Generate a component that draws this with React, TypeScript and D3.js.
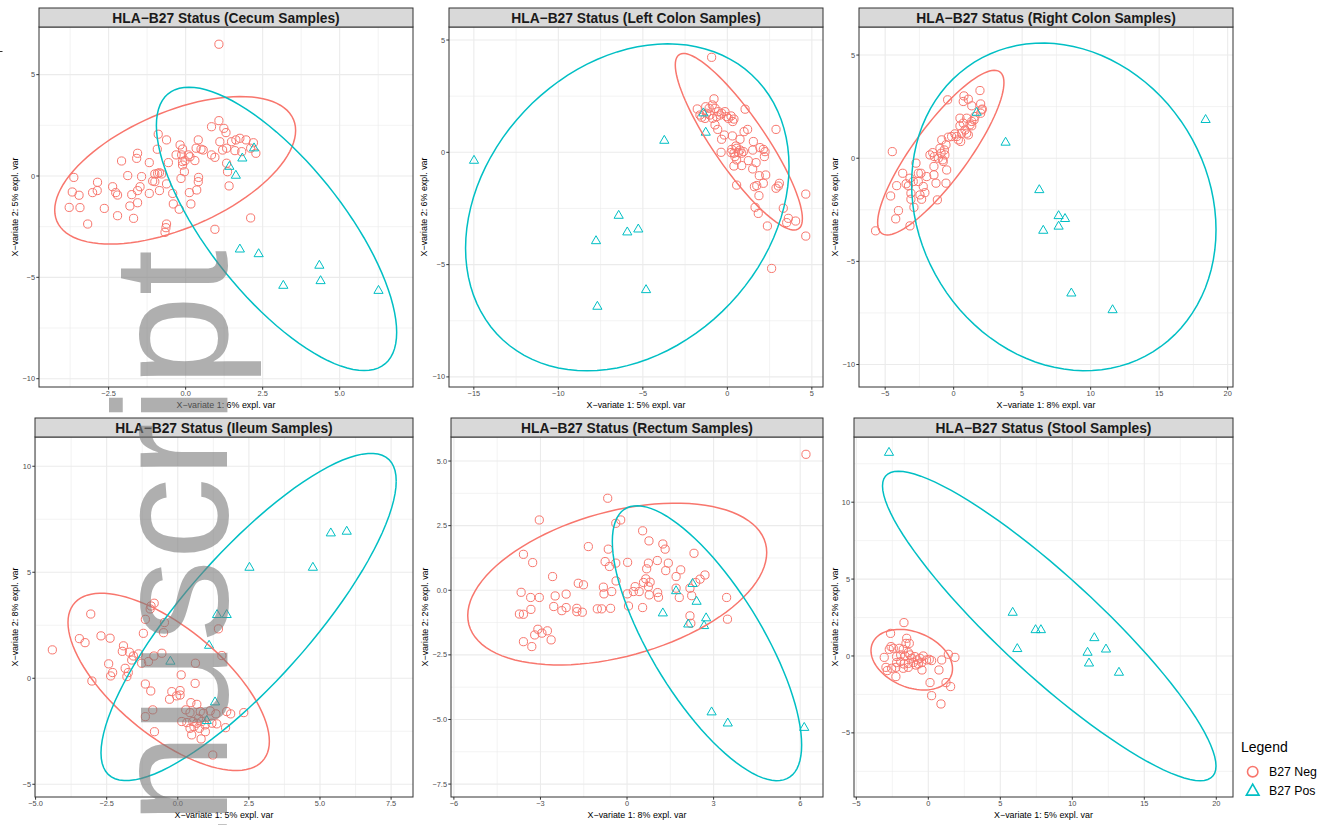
import React from "react";
import * as d3 from "d3";

type Pt = [number, number];

const NEG_COLOR = "#F8766D";
const POS_COLOR = "#00BFC4";
const legendLabels = ["B27 Neg", "B27 Pos"];

// ---------- Cecum ----------
const cecumNeg: Pt[] = [
  [1.08, 6.5], [0.84, 2.43], [1.08, 2.73], [1.24, 2.35], [1.31, 2.14], [-0.89, 2.06], [-0.62, 1.78], [0.41, 1.78],
  [1.11, 1.69], [1.49, 1.69], [1.63, 1.78], [1.76, 1.86], [1.96, 1.78], [2.2, 1.64], [-0.18, 1.53], [-0.92, 1.32],
  [-0.1, 1.33], [0.34, 1.37], [0.5, 1.32], [0.57, 1.28], [1.2, 1.28], [1.33, 1.37], [1.6, 1.25], [1.82, 1.2],
  [2.11, 1.37], [2.28, 1.12], [-1.56, 1.12], [-1.59, 0.87], [-0.31, 1.04], [-0.13, 1.04], [0.09, 1.04], [0.14, 0.95],
  [0.84, 1.04], [0.95, 0.92], [-2.08, 0.74], [-1.18, 0.66], [-0.56, 0.66], [-0.1, 0.71], [-0.02, 0.76], [0.3, 0.76],
  [-0.1, 0.54], [1.33, 0.63], [1.36, 0.21], [-0.91, 0.13], [-1.0, 0.1], [-0.85, 0.16], [-0.78, 0.1], [-0.04, 0.21],
  [-1.88, 0.02], [-1.43, -0.03], [-3.63, -0.07], [0.42, -0.07], [-0.15, -0.12], [0.41, -0.28], [-1.07, -0.25],
  [-1.0, -0.28], [-2.86, -0.31], [-0.62, -0.39], [-2.37, -0.53], [-1.48, -0.53], [0.36, -0.69], [-0.85, -0.72],
  [-3.68, -0.79], [-2.87, -0.72], [-3.02, -0.82], [-1.56, -0.72], [-2.27, -0.82], [0.12, -0.82], [-1.18, -0.86],
  [-0.42, -0.86], [1.41, -0.49], [-3.46, -0.95], [-2.21, -0.94], [-1.75, -0.92], [-1.56, -1.32], [-0.4, -1.38],
  [0.17, -1.38], [-1.81, -1.48], [-3.78, -1.55], [-3.43, -1.56], [-2.64, -1.6], [-0.21, -1.64], [-2.21, -1.96],
  [-1.69, -2.09], [2.11, -2.07], [-3.18, -2.37], [-0.62, -2.37], [-0.64, -2.55], [-0.67, -2.78], [0.95, -2.63],
];
const cecumPos: Pt[] = [
  [2.22, 1.37], [1.84, 0.87], [1.42, 0.46], [1.63, 0.02], [1.76, -3.62], [2.37, -3.85], [4.34, -4.42], [4.38, -5.18],
  [3.17, -5.41], [6.26, -5.66],
];
// ellipse: [centerX, centerY, halfWidth, halfHeight, correlation]
const cecumEllNeg = [-0.34, 0.28, 3.91, 3.64, 0.54];
const cecumEllPos = [2.95, -2.61, 3.9, 6.99, -0.73];

// ---------- Left colon ----------
const leftNeg: Pt[] = [
  [-0.93, 4.23], [-0.79, 2.38], [-1.78, 1.93], [-1.28, 2.03], [-1.08, 1.96], [-0.89, 2.11], [-0.73, 1.96], [-0.53, 1.81],
  [-0.34, 1.74], [-0.14, 1.81], [-1.52, 1.56], [-1.32, 1.51], [-1.03, 1.66], [-0.87, 1.51], [-0.63, 1.59], [-0.43, 1.66],
  [-0.04, 1.59], [0.22, 1.62], [0.39, 1.48], [0.32, 1.37], [1.05, 1.92], [-0.73, 1.22], [-0.57, 1.02], [2.88, 1.02],
  [0.99, 0.92], [1.2, 1.02], [-0.18, 0.77], [0.3, 0.73], [-0.34, 0.58], [0.75, 0.58], [1.54, 0.48], [0.51, 0.28],
  [0.26, 0.13], [0.55, 0.18], [0.75, 0.1], [0.95, 0.03], [0.39, -0.04], [0.22, -0.01], [0.65, -0.01], [-0.37, 0.0],
  [0.85, -0.04], [1.5, 0.1], [1.93, 0.21], [2.13, 0.13], [2.23, 0.03], [2.19, -0.19], [0.45, -0.19], [0.55, -0.34],
  [1.24, -0.37], [1.7, -0.46], [0.39, -0.61], [0.85, -0.59], [1.5, -0.74], [1.89, -1.04], [2.27, -1.01], [0.55, -1.46],
  [1.6, -1.53], [1.74, -1.48], [2.13, -1.38], [3.08, -1.38], [3.02, -1.5], [2.88, -1.6], [1.87, -1.93], [4.64, -1.86],
  [1.64, -2.45], [1.83, -2.72], [3.31, -2.49], [3.61, -2.94], [3.51, -3.13], [4.04, -3.06], [2.37, -3.28], [4.64, -3.73],
  [2.62, -5.17], [-1.62, 1.66], [-1.22, 1.74], [0.06, 1.51],
];
const leftPos: Pt[] = [
  [-14.99, -0.37], [-3.73, 0.52], [-1.42, 1.74], [-1.28, 0.88], [-6.43, -2.82], [-7.77, -3.95], [-5.92, -3.56],
  [-5.27, -3.43], [-4.81, -6.13], [-7.69, -6.87],
];
const leftEllNeg = [0.68, 0.47, 3.76, 3.93, -0.87];
const leftEllPos = [-5.92, -2.45, 9.57, 7.28, 0.25];

// ---------- Right colon ----------
const rightNeg: Pt[] = [
  [-4.48, 0.32], [-5.7, -3.52], [-4.6, -1.83], [-4.23, -2.94], [-4.03, -2.54], [-3.19, -3.28], [-4.16, -1.33],
  [-3.72, -0.73], [-3.47, -1.24], [-3.3, -1.34], [-3.19, -0.97], [-3.12, -1.7], [-3.12, -1.99], [-2.95, -1.13],
  [-2.9, -2.38], [-2.75, -0.24], [-2.58, -0.73], [-2.58, -1.13], [-2.39, -0.73], [-2.46, -1.78], [-2.34, -1.99],
  [-2.22, -1.37], [-2.1, -1.67], [-1.97, -0.89], [-1.73, 0.16], [-1.53, 0.27], [-1.41, 0.08], [-1.44, -0.4],
  [-1.44, -0.81], [-1.29, -1.21], [-1.19, -2.02], [-1.12, 0.0], [-1.0, 0.48], [-0.87, 0.89], [-0.92, 0.24],
  [-0.8, -0.08], [-0.68, 0.4], [-0.64, 0.16], [-0.76, -0.16], [-0.56, 0.65], [-0.51, -0.57], [-0.56, -1.21],
  [-0.39, 1.02], [-0.44, 2.83], [-0.15, 1.05], [0.09, 1.18], [0.22, 1.05], [0.34, 0.89], [0.46, 1.57], [0.46, 1.94],
  [0.58, 1.21], [0.51, 0.81], [0.7, 1.7], [0.7, 2.75], [0.75, 3.02], [0.83, 1.37], [0.95, 1.94], [1.07, 1.13],
  [1.07, 2.86], [1.19, 1.62], [1.32, 2.54], [1.32, 1.78], [1.49, 1.86], [1.32, 1.57], [0.95, 1.21], [1.92, 3.28],
  [1.97, 2.63], [2.04, 2.34], [1.97, 2.18], [2.09, 2.38], [1.55, 2.02],
];
const rightPos: Pt[] = [
  [1.68, 2.21], [3.79, 0.76], [18.39, 1.86], [6.25, -1.54], [7.66, -2.8], [8.13, -2.94], [7.66, -3.31], [6.54, -3.51],
  [8.59, -6.55], [11.6, -7.36],
];
const rightEllNeg = [-0.94, 0.27, 4.61, 3.99, 0.85];
const rightEllPos = [8.04, -2.36, 11.11, 7.94, -0.14];

// ---------- Ileum ----------
const ileumNeg: Pt[] = [
  [-4.41, 1.34], [-3.06, 3.03], [-3.46, 1.87], [-3.26, 1.68], [-2.7, 2.0], [-2.38, 1.89], [-3.02, -0.13], [-2.43, 0.68],
  [-2.36, 0.11], [-2.29, 0.27], [-1.91, 1.53], [-1.95, 1.27], [-1.7, 1.23], [-1.85, 0.47], [-1.79, 0.08], [-1.74, 0.27],
  [-1.56, 1.05], [-1.38, 1.15], [-1.62, 0.86], [-1.27, 0.71], [-1.21, 2.12], [-1.14, 2.78], [-0.97, 3.27], [-0.94, 3.41],
  [-0.83, 3.54], [-1.03, 0.79], [-0.84, 1.05], [-0.56, 1.18], [-0.47, 2.63], [-0.5, 2.15], [1.43, 2.33], [1.55, 1.07],
  [0.62, 0.71], [0.12, 0.16], [0.61, -0.24], [-1.14, -0.27], [-0.95, -0.6], [-0.21, -0.63], [0.08, -0.58], [-0.29, -0.99],
  [-0.04, -0.83], [0.08, -0.79], [-0.88, -1.49], [-1.14, -1.81], [-0.82, -2.52], [0.28, -1.49], [0.46, -1.15],
  [0.67, -1.23], [0.43, -1.62], [0.79, -1.57], [0.9, -1.65], [1.14, -1.54], [1.34, -1.68], [1.72, -1.57], [1.86, -1.68],
  [2.32, -1.62], [0.14, -2.04], [0.32, -2.09], [0.53, -2.04], [0.67, -2.12], [0.73, -1.89], [0.84, -2.04], [0.96, -2.2],
  [1.2, -2.12], [1.37, -2.15], [0.57, -2.28], [0.76, -2.36], [0.43, -2.36], [0.97, -2.52], [1.68, -2.33], [0.49, -2.67],
  [0.82, -2.86], [1.23, -3.62],
];
const ileumPos: Pt[] = [
  [5.38, 6.84], [5.94, 6.92], [2.52, 5.22], [4.75, 5.22], [1.38, 2.99], [1.72, 2.99], [1.1, 1.54], [-0.26, 0.79],
  [1.31, -1.13], [1.02, -2.01],
];
const ileumEllNeg = [-0.32, -0.17, 3.54, 4.18, -0.67];
const ileumEllPos = [2.49, 2.89, 5.19, 7.72, 0.83];

// ---------- Rectum ----------
const rectumNeg: Pt[] = [
  [6.2, 5.26], [-0.67, 3.56], [-3.04, 2.72], [-0.22, 2.72], [-0.39, 2.59], [0.54, 2.3], [0.76, 1.91], [-1.34, 1.69],
  [-0.65, 1.59], [1.24, 1.79], [1.32, 1.59], [2.32, 1.43], [-3.59, 1.39], [-3.27, 1.07], [-0.76, 1.11], [-0.61, 0.92],
  [-0.39, 1.05], [0.02, 1.08], [1.05, 1.15], [1.43, 1.05], [0.74, 1.05], [0.68, 0.83], [1.34, 0.76], [1.86, 0.79],
  [-2.58, 0.53], [1.7, 0.53], [2.7, 0.59], [2.53, 0.43], [2.38, 0.3], [-0.38, 0.36], [0.65, 0.44], [0.57, 0.3],
  [0.8, 0.31], [0.28, 0.14], [0.74, 0.14], [-1.69, 0.27], [-1.51, 0.21], [-0.82, 0.12], [1.7, 0.08], [2.18, 0.08],
  [-3.67, -0.08], [0.22, -0.05], [0.42, -0.05], [-0.53, -0.05], [1.06, -0.09], [-0.8, -0.14], [0.01, -0.14],
  [-2.11, -0.15], [0.77, -0.18], [1.09, -0.27], [-2.49, -0.22], [-3.34, -0.28], [-3.04, -0.28], [1.81, -0.28],
  [2.24, -0.21], [3.45, -0.28], [0.05, -0.61], [-2.54, -0.63], [-2.11, -0.67], [-1.74, -0.7], [-0.57, -0.7],
  [0.54, -0.67], [-1.03, -0.72], [-0.88, -0.72], [-3.33, -0.74], [-2.26, -0.79], [-1.74, -0.83], [-1.55, -0.85],
  [-3.73, -0.92], [-3.59, -0.93], [2.18, -0.99], [3.48, -1.12], [2.21, -1.28], [-3.09, -1.51], [-2.76, -1.57],
  [-3.2, -1.73], [-2.95, -1.66], [-2.63, -1.92], [-3.59, -1.99], [-3.3, -2.18],
];
const rectumPos: Pt[] = [
  [2.27, 0.25], [1.7, -0.03], [2.41, -0.44], [1.24, -0.89], [2.74, -1.08], [2.12, -1.32], [2.67, -1.38], [2.93, -4.72],
  [3.49, -5.15], [6.14, -5.32],
];
const rectumEllNeg = [-0.34, 0.24, 5.18, 3.13, 0.39];
const rectumEllPos = [2.77, -2.05, 3.28, 5.32, -0.74];

// ---------- Stool ----------
const stoolNeg: Pt[] = [
  [-1.69, 2.17], [-2.62, 1.47], [-1.5, 1.15], [-1.55, 0.82], [-1.32, 0.82], [-2.59, 0.61], [-2.71, 0.43], [-2.43, 0.5],
  [-2.01, 0.5], [-1.74, 0.43], [-3.06, -0.09], [-2.2, -0.04], [-1.92, 0.07], [-1.62, 0.0], [-1.39, 0.22], [-1.27, 0.07],
  [-1.16, -0.15], [-0.93, -0.04], [-0.76, -0.26], [-0.58, -0.15], [-0.35, 0.0], [-0.12, -0.26], [0.07, -0.22],
  [0.23, -0.3], [-2.2, -0.43], [-1.92, -0.37], [-1.69, -0.52], [-1.39, -0.48], [-1.04, -0.43], [-0.69, -0.52],
  [-0.46, -0.43], [-2.55, -0.8], [-2.94, -0.74], [-2.85, -0.95], [-2.25, -0.74], [-1.74, -0.8], [-1.39, -0.74],
  [-0.86, -0.59], [-0.44, -0.91], [-2.25, -1.34], [0.93, -0.26], [1.39, 0.11], [1.85, -0.09], [0.74, -0.91],
  [0.12, -1.73], [1.23, -1.73], [1.55, -1.99], [0.23, -2.58], [0.88, -3.12],
];
const stoolPos: Pt[] = [
  [-2.73, 13.22], [5.86, 2.82], [7.45, 1.69], [7.82, 1.69], [6.18, 0.46], [11.53, 1.17], [11.06, 0.22], [12.34, 0.43],
  [11.16, -0.48], [13.24, -1.08],
];
const stoolEllNeg = [-1.15, -0.24, 2.83, 1.97, -0.3];
const stoolEllPos = [8.4, 1.95, 11.58, 10.06, -0.905];

// ---------- panel configuration ----------
const panels = [
  {
    title: "HLA−B27 Status (Cecum Samples)", xLab: "X−variate 1: 6% expl. var", yLab: "X−variate 2: 5% expl. var",
    neg: cecumNeg, pos: cecumPos, ellNeg: cecumEllNeg, ellPos: cecumEllPos,
    xDomain: [-4.76, 7.38], yDomain: [-10.41, 7.35], xTicks: [-2.5, 0, 2.5, 5], yTicks: [-10, -5, 0, 5],
    xFmt: ".1f", yFmt: "d", box: { l: 39, r: 413, t: 27, b: 387 }, yTitleX: 15,
  },
  {
    title: "HLA−B27 Status (Left Colon Samples)", xLab: "X−variate 1: 5% expl. var", yLab: "X−variate 2: 6% expl. var",
    neg: leftNeg, pos: leftPos, ellNeg: leftEllNeg, ellPos: leftEllPos,
    xDomain: [-16.47, 5.66], yDomain: [-10.45, 5.58], xTicks: [-15, -10, -5, 0, 5], yTicks: [-10, -5, 0, 5],
    xFmt: "d", yFmt: "d", box: { l: 449, r: 823, t: 27, b: 387 }, yTitleX: 424,
  },
  {
    title: "HLA−B27 Status (Right Colon Samples)", xLab: "X−variate 1: 8% expl. var", yLab: "X−variate 2: 6% expl. var",
    neg: rightNeg, pos: rightPos, ellNeg: rightEllNeg, ellPos: rightEllPos,
    xDomain: [-6.91, 20.39], yDomain: [-11.09, 6.36], xTicks: [-5, 0, 5, 10, 15, 20], yTicks: [-10, -5, 0, 5],
    xFmt: "d", yFmt: "d", box: { l: 859, r: 1233, t: 27, b: 387 }, yTitleX: 835,
  },
  {
    title: "HLA−B27 Status (Ileum Samples)", xLab: "X−variate 1: 5% expl. var", yLab: "X−variate 2: 8% expl. var",
    neg: ileumNeg, pos: ileumPos, ellNeg: ileumEllNeg, ellPos: ileumEllPos,
    xDomain: [-5.02, 8.27], yDomain: [-5.6, 11.38], xTicks: [-5, -2.5, 0, 2.5, 5, 7.5], yTicks: [-5, 0, 5, 10],
    xFmt: ".1f", yFmt: "d", box: { l: 35, r: 413, t: 437, b: 797 }, yTitleX: 15,
  },
  {
    title: "HLA−B27 Status (Rectum Samples)", xLab: "X−variate 1: 8% expl. var", yLab: "X−variate 2: 2% expl. var",
    neg: rectumNeg, pos: rectumPos, ellNeg: rectumEllNeg, ellPos: rectumEllPos,
    xDomain: [-6.1, 6.79], yDomain: [-8.0, 5.93], xTicks: [-6, -3, 0, 3, 6], yTicks: [-7.5, -5, -2.5, 0, 2.5, 5],
    xFmt: "d", yFmt: ".1f", box: { l: 451, r: 823, t: 437, b: 797 }, yTitleX: 425,
  },
  {
    title: "HLA−B27 Status (Stool Samples)", xLab: "X−variate 1: 5% expl. var", yLab: "X−variate 2: 2% expl. var",
    neg: stoolNeg, pos: stoolPos, ellNeg: stoolEllNeg, ellPos: stoolEllPos,
    xDomain: [-5.16, 21.16], yDomain: [-9.17, 14.24], xTicks: [-5, 0, 5, 10, 15, 20], yTicks: [-5, 0, 5, 10],
    xFmt: "d", yFmt: "d", box: { l: 854, r: 1233, t: 437, b: 797 }, yTitleX: 835,
  },
];

const FONT = "'Liberation Sans', Arial, Helvetica, sans-serif";

function minorBreaks(ticks: number[], domain: number[]) {
  const step = ticks[1] - ticks[0];
  const out: number[] = [];
  for (let v = ticks[0] - step / 2; v <= domain[1]; v += step) {
    if (v >= domain[0]) out.push(v);
  }
  return out;
}

function ellipsePoints(e: number[]) {
  const [cx, cy, w, h, rho] = e;
  const phi = Math.acos(rho);
  return d3.range(0, 101).map((i) => {
    const t = (i / 100) * 2 * Math.PI;
    return [cx + w * Math.cos(t), cy + h * Math.cos(t - phi)] as Pt;
  });
}

function triPath(cx: number, cy: number, r: number) {
  const xc = r * Math.sqrt(3) / 2;
  return `M${cx},${cy - r}L${cx + xc},${cy + r / 2}L${cx - xc},${cy + r / 2}Z`;
}

function Panel({ p }: { p: typeof panels[number] }) {
  const { l, r, t, b } = p.box;
  const x = d3.scaleLinear().domain(p.xDomain).range([l, r]);
  const y = d3.scaleLinear().domain(p.yDomain).range([b, t]);
  const xf = d3.format(p.xFmt);
  const yf = d3.format(p.yFmt);
  const line = d3.line<Pt>().x((d) => x(d[0])).y((d) => y(d[1]));
  const stripTop = t - 19;
  return (
    <g>
      <rect x={l} y={t} width={r - l} height={b - t} fill="#ffffff" />
      {minorBreaks(p.xTicks, p.xDomain).map((v, i) => (
        <line key={"mx" + i} x1={x(v)} x2={x(v)} y1={t} y2={b} stroke="#ebebeb" strokeWidth={0.6} />
      ))}
      {minorBreaks(p.yTicks, p.yDomain).map((v, i) => (
        <line key={"my" + i} y1={y(v)} y2={y(v)} x1={l} x2={r} stroke="#ebebeb" strokeWidth={0.6} />
      ))}
      {p.xTicks.map((v, i) => (
        <line key={"gx" + i} x1={x(v)} x2={x(v)} y1={t} y2={b} stroke="#ebebeb" strokeWidth={1.1} />
      ))}
      {p.yTicks.map((v, i) => (
        <line key={"gy" + i} y1={y(v)} y2={y(v)} x1={l} x2={r} stroke="#ebebeb" strokeWidth={1.1} />
      ))}
      {p.neg.map((d, i) => (
        <circle key={"n" + i} cx={x(d[0])} cy={y(d[1])} r={4.1} fill="none" stroke={NEG_COLOR} strokeWidth={1} />
      ))}
      {p.pos.map((d, i) => (
        <path key={"p" + i} d={triPath(x(d[0]), y(d[1]), 5.3)} fill="none" stroke={POS_COLOR} strokeWidth={1} />
      ))}
      <path d={line(ellipsePoints(p.ellNeg)) || ""} fill="none" stroke={NEG_COLOR} strokeWidth={1.5} />
      <path d={line(ellipsePoints(p.ellPos)) || ""} fill="none" stroke={POS_COLOR} strokeWidth={1.5} />
      <rect x={l} y={t} width={r - l} height={b - t} fill="none" stroke="#333333" strokeWidth={1} />
      <rect x={l} y={stripTop} width={r - l} height={19} fill="#d9d9d9" stroke="#333333" strokeWidth={1} />
      <text x={(l + r) / 2} y={stripTop + 14.5} textAnchor="middle" fontFamily={FONT} fontWeight="bold"
        fontSize={13.8} fill="#1a1a1a">{p.title}</text>
      {p.xTicks.map((v, i) => (
        <g key={"tx" + i}>
          <line x1={x(v)} x2={x(v)} y1={b} y2={b + 2.7} stroke="#333333" strokeWidth={1} />
          <text x={x(v)} y={b + 9.3} textAnchor="middle" fontFamily={FONT} fontSize={7.4} fill="#4d4d4d">{xf(v)}</text>
        </g>
      ))}
      {p.yTicks.map((v, i) => (
        <g key={"ty" + i}>
          <line x1={l - 2.7} x2={l} y1={y(v)} y2={y(v)} stroke="#333333" strokeWidth={1} />
          <text x={l - 4} y={y(v) + 2.6} textAnchor="end" fontFamily={FONT} fontSize={7.4} fill="#4d4d4d">{yf(v)}</text>
        </g>
      ))}
      <text x={(l + r) / 2} y={b + 20.5} textAnchor="middle" fontFamily={FONT} fontSize={8.9} fill="#000">{p.xLab}</text>
      <text transform={`translate(${p.yTitleX + 3.2},${(t + b) / 2}) rotate(-90)`} textAnchor="middle"
        fontFamily={FONT} fontSize={8.9} fill="#000">{p.yLab}</text>
    </g>
  );
}

export default function App() {
  return (
    <svg width={1333} height={825} style={{ position: "absolute", left: 0, top: 0, background: "#fff" }}>
      <rect x={0} y={0} width={1333} height={825} fill="#ffffff" />
      <line x1={0} x2={2.5} y1={51.5} y2={51.5} stroke="#333" strokeWidth={1} />
      {panels.map((p, i) => <Panel key={i} p={p} />)}
      <g fontFamily={FONT}>
        <text x={1241} y={752} fontSize={14} fill="#000">Legend</text>
        <circle cx={1252.7} cy={771.7} r={5.2} fill="none" stroke={NEG_COLOR} strokeWidth={1.6} />
        <text x={1269} y={776.2} fontSize={12.3} fill="#000">{legendLabels[0]}</text>
        <path d={triPath(1252.7, 791.5, 7.3)} fill="none" stroke={POS_COLOR} strokeWidth={1.6} />
        <text x={1269} y={795.2} fontSize={12.3} fill="#000">{legendLabels[1]}</text>
      </g>
      <text transform="translate(227,250) rotate(-90)" textAnchor="end" fontFamily={FONT} fontSize={164}
        fill="#7a7a7a" fillOpacity={0.6}>Author Manuscript</text>
    </svg>
  );
}
